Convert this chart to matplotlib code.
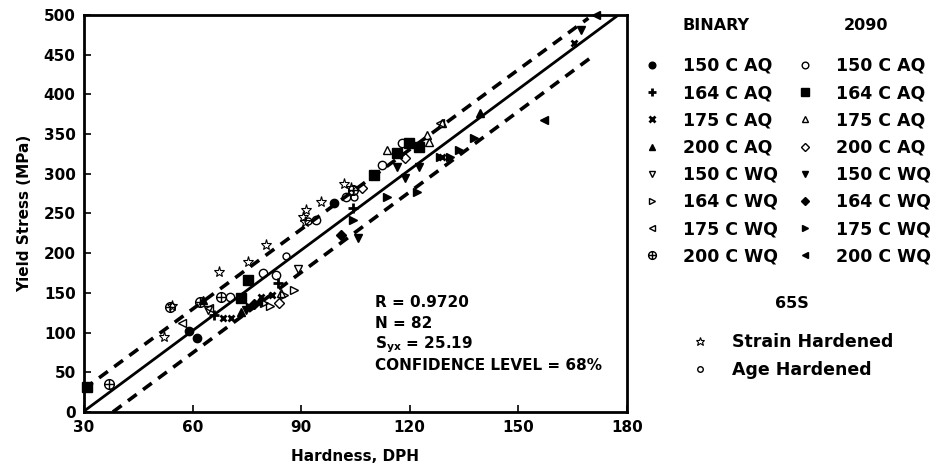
import matplotlib
matplotlib.use("Agg")
from matplotlib import pyplot as plt
from matplotlib.path import Path

# Binary alloy points (hardness DPH, yield stress MPa)
bin_150aq_x = [58.9, 61.1, 99.2]
bin_150aq_y = [102, 93, 263]
bin_164aq_x = [65.8, 83.5, 104.4]
bin_164aq_y = [122, 162, 257]
bin_175aq_x = [68.3, 70.6, 78.9, 82.0, 128.9, 165.5]
bin_175aq_y = [119, 119, 145, 147, 321, 465]
bin_200aq_x = [62.8, 73.3, 139.4]
bin_200aq_y = [141, 126, 376]
bin_150wq_x = [64.4, 89.0]
bin_150wq_y = [128, 180]
bin_164wq_x = [79.7, 85.3, 88.0, 81.5]
bin_164wq_y = [137, 147, 154, 133]
bin_175wq_x = [57.0, 64.5, 128.3]
bin_175wq_y = [112, 131, 364]
bin_200wq_x = [37.0, 53.9, 62.0, 67.8, 104.4]
bin_200wq_y = [35, 132, 138, 145, 280]

# 2090 alloy points
a_150aq_x = [70.3, 79.4, 83.0, 94.0, 102.5, 112.2, 117.8]
a_150aq_y = [145, 175, 172, 242, 271, 311, 339]
a_164aq_x = [30.8, 73.3, 75.3, 110.0, 116.4, 119.7, 122.5]
a_164aq_y = [31, 144, 166, 298, 326, 339, 334]
a_175aq_x = [113.6, 124.7, 125.3, 128.9, 84.5]
a_175aq_y = [330, 349, 340, 364, 150]
a_200aq_x = [84.0, 106.7, 118.6]
a_200aq_y = [137, 282, 320]
a_150wq_x = [74.7, 105.8, 116.4, 118.6, 122.5, 167.2]
a_150wq_y = [128, 219, 309, 295, 309, 481]
a_164wq_x = [77.0, 101.0]
a_164wq_y = [136, 223]
a_175wq_x = [76.0, 104.4, 113.6, 122.0, 128.3, 131.0, 133.6, 137.7]
a_175wq_y = [132, 242, 271, 277, 321, 321, 330, 345]
a_200wq_x = [78.0, 157.2, 171.4]
a_200wq_y = [138, 368, 500]

# 65S
strain_x = [52.0, 54.4, 67.2, 75.3, 80.3, 90.5, 91.4, 95.6, 101.7, 103.9, 91.0]
strain_y = [94, 133, 176, 189, 210, 246, 254, 265, 287, 282, 239]
age_x = [85.8, 104.7, 92.0]
age_y = [196, 271, 240]

# regression line and +/- band
fit_slope = 3.38
fit_intercept = -100.4
band = 28.0

# circle with a cross inside
cross = Path([(-1, 0), (1, 0), (0, -1), (0, 1)],
             [Path.MOVETO, Path.LINETO, Path.MOVETO, Path.LINETO])
oplus = Path.make_compound_path(Path.unit_circle(), cross)

fig = plt.figure(figsize=(9.36, 4.67), dpi=100)
ax = fig.add_axes([0.0897, 0.1178, 0.5801, 0.8501])

ms = 6
series = [
    (bin_150aq_x, bin_150aq_y, dict(marker="o", color="k", ms=ms)),
    (bin_164aq_x, bin_164aq_y, dict(marker="+", color="k", ms=ms + 1, mew=2)),
    (bin_175aq_x, bin_175aq_y, dict(marker="x", color="k", ms=ms - 1, mew=2)),
    (bin_200aq_x, bin_200aq_y, dict(marker="^", color="k", ms=ms)),
    (bin_150wq_x, bin_150wq_y, dict(marker="v", mfc="none", mec="k", ms=ms)),
    (bin_164wq_x, bin_164wq_y, dict(marker=">", mfc="none", mec="k", ms=ms)),
    (bin_175wq_x, bin_175wq_y, dict(marker="<", mfc="none", mec="k", ms=ms)),
    (bin_200wq_x, bin_200wq_y, dict(marker=oplus, mfc="none", mec="k", ms=ms + 1)),
    (a_150aq_x, a_150aq_y, dict(marker="o", mfc="none", mec="k", ms=ms)),
    (a_164aq_x, a_164aq_y, dict(marker="s", color="k", ms=ms + 1)),
    (a_175aq_x, a_175aq_y, dict(marker="^", mfc="none", mec="k", ms=ms)),
    (a_200aq_x, a_200aq_y, dict(marker="D", mfc="none", mec="k", ms=ms - 1)),
    (a_150wq_x, a_150wq_y, dict(marker="v", color="k", ms=ms)),
    (a_164wq_x, a_164wq_y, dict(marker="D", color="k", ms=ms - 1)),
    (a_175wq_x, a_175wq_y, dict(marker=">", color="k", ms=ms)),
    (a_200wq_x, a_200wq_y, dict(marker="<", color="k", ms=ms)),
]
labels = ["150 C AQ", "164 C AQ", "175 C AQ", "200 C AQ",
          "150 C WQ", "164 C WQ", "175 C WQ", "200 C WQ"] * 2

handles = []
for (x, y, kw), lab in zip(series, labels):
    h, = ax.plot(x, y, ls="none", clip_on=False, label=lab, **kw)
    handles.append(h)

h_strain, = ax.plot(strain_x, strain_y, ls="none", marker="*", mfc="none",
                    mec="k", ms=8, mew=0.8, label="Strain Hardened")
h_age, = ax.plot(age_x, age_y, ls="none", marker="o", mfc="none",
                 mec="k", ms=5, label="Age Hardened")

# fit line and bands
x0 = 30
x1 = (500 - fit_intercept) / fit_slope
ax.plot([x0, x1], [fit_slope * x0 + fit_intercept, 500], color="k", lw=2)
xu0 = 30
xu1 = (500 - band - fit_intercept) / fit_slope
ax.plot([xu0, xu1], [fit_slope * xu0 + fit_intercept + band, 500 - 4],
        color="k", lw=2.6, dashes=(3, 2.2))
xl0 = (band - fit_intercept) / fit_slope
xl1 = 171
ax.plot([xl0, xl1], [0, fit_slope * xl1 + fit_intercept - band],
        color="k", lw=2.6, dashes=(3, 2.2))

ax.set_xlim(30, 180)
ax.set_ylim(0, 500)
ax.set_xticks(range(30, 181, 30))
ax.set_yticks(range(0, 501, 50))
ax.tick_params(direction="in", length=5, width=1.2, labelsize=11, pad=6)
for lab in ax.get_xticklabels() + ax.get_yticklabels():
    lab.set_fontweight("bold")
for sp in ax.spines.values():
    sp.set_linewidth(2)
ax.set_xlabel("Hardness, DPH", fontsize=11, fontweight="bold", labelpad=10)
ax.set_ylabel("Yield Stress (MPa)", fontsize=11, fontweight="bold", labelpad=8)

stats = ["R = 0.9720", "N = 82", "S$_{\\mathbf{yx}}$ = 25.19",
         "CONFIDENCE LEVEL = 68%"]
for i, s in enumerate(stats):
    ax.text(110.3, 138 - i * 26.5, s, fontsize=11, fontweight="bold",
            va="center", ha="left")

leg1 = fig.legend(handles=handles, ncol=2, loc="upper left",
                  bbox_to_anchor=(0.687, 0.878), frameon=False,
                  prop=dict(size=12.5, weight="bold"), handlelength=1.0,
                  handletextpad=1.3, columnspacing=1.05, labelspacing=0.53,
                  borderaxespad=0, borderpad=0, markerscale=0.8)
fig.text(683 / 936, 1 - 25 / 467, "BINARY", fontsize=11.5, fontweight="bold",
         va="center", ha="left")
fig.text(866 / 936, 1 - 25 / 467, "2090", fontsize=11.5, fontweight="bold",
         va="center", ha="center")

leg2 = fig.legend(handles=[h_strain, h_age], loc="upper left",
                  bbox_to_anchor=(0.739, 0.366), frameon=False,
                  prop=dict(size=12.5, weight="bold"), handlelength=1.0,
                  handletextpad=1.3, labelspacing=0.55, borderaxespad=0,
                  borderpad=0, title="65S", markerscale=0.8,
                  title_fontproperties=dict(size=11.5, weight="bold"))
leg2._legend_box.sep = 16

fig.savefig("out.png", dpi=100)
